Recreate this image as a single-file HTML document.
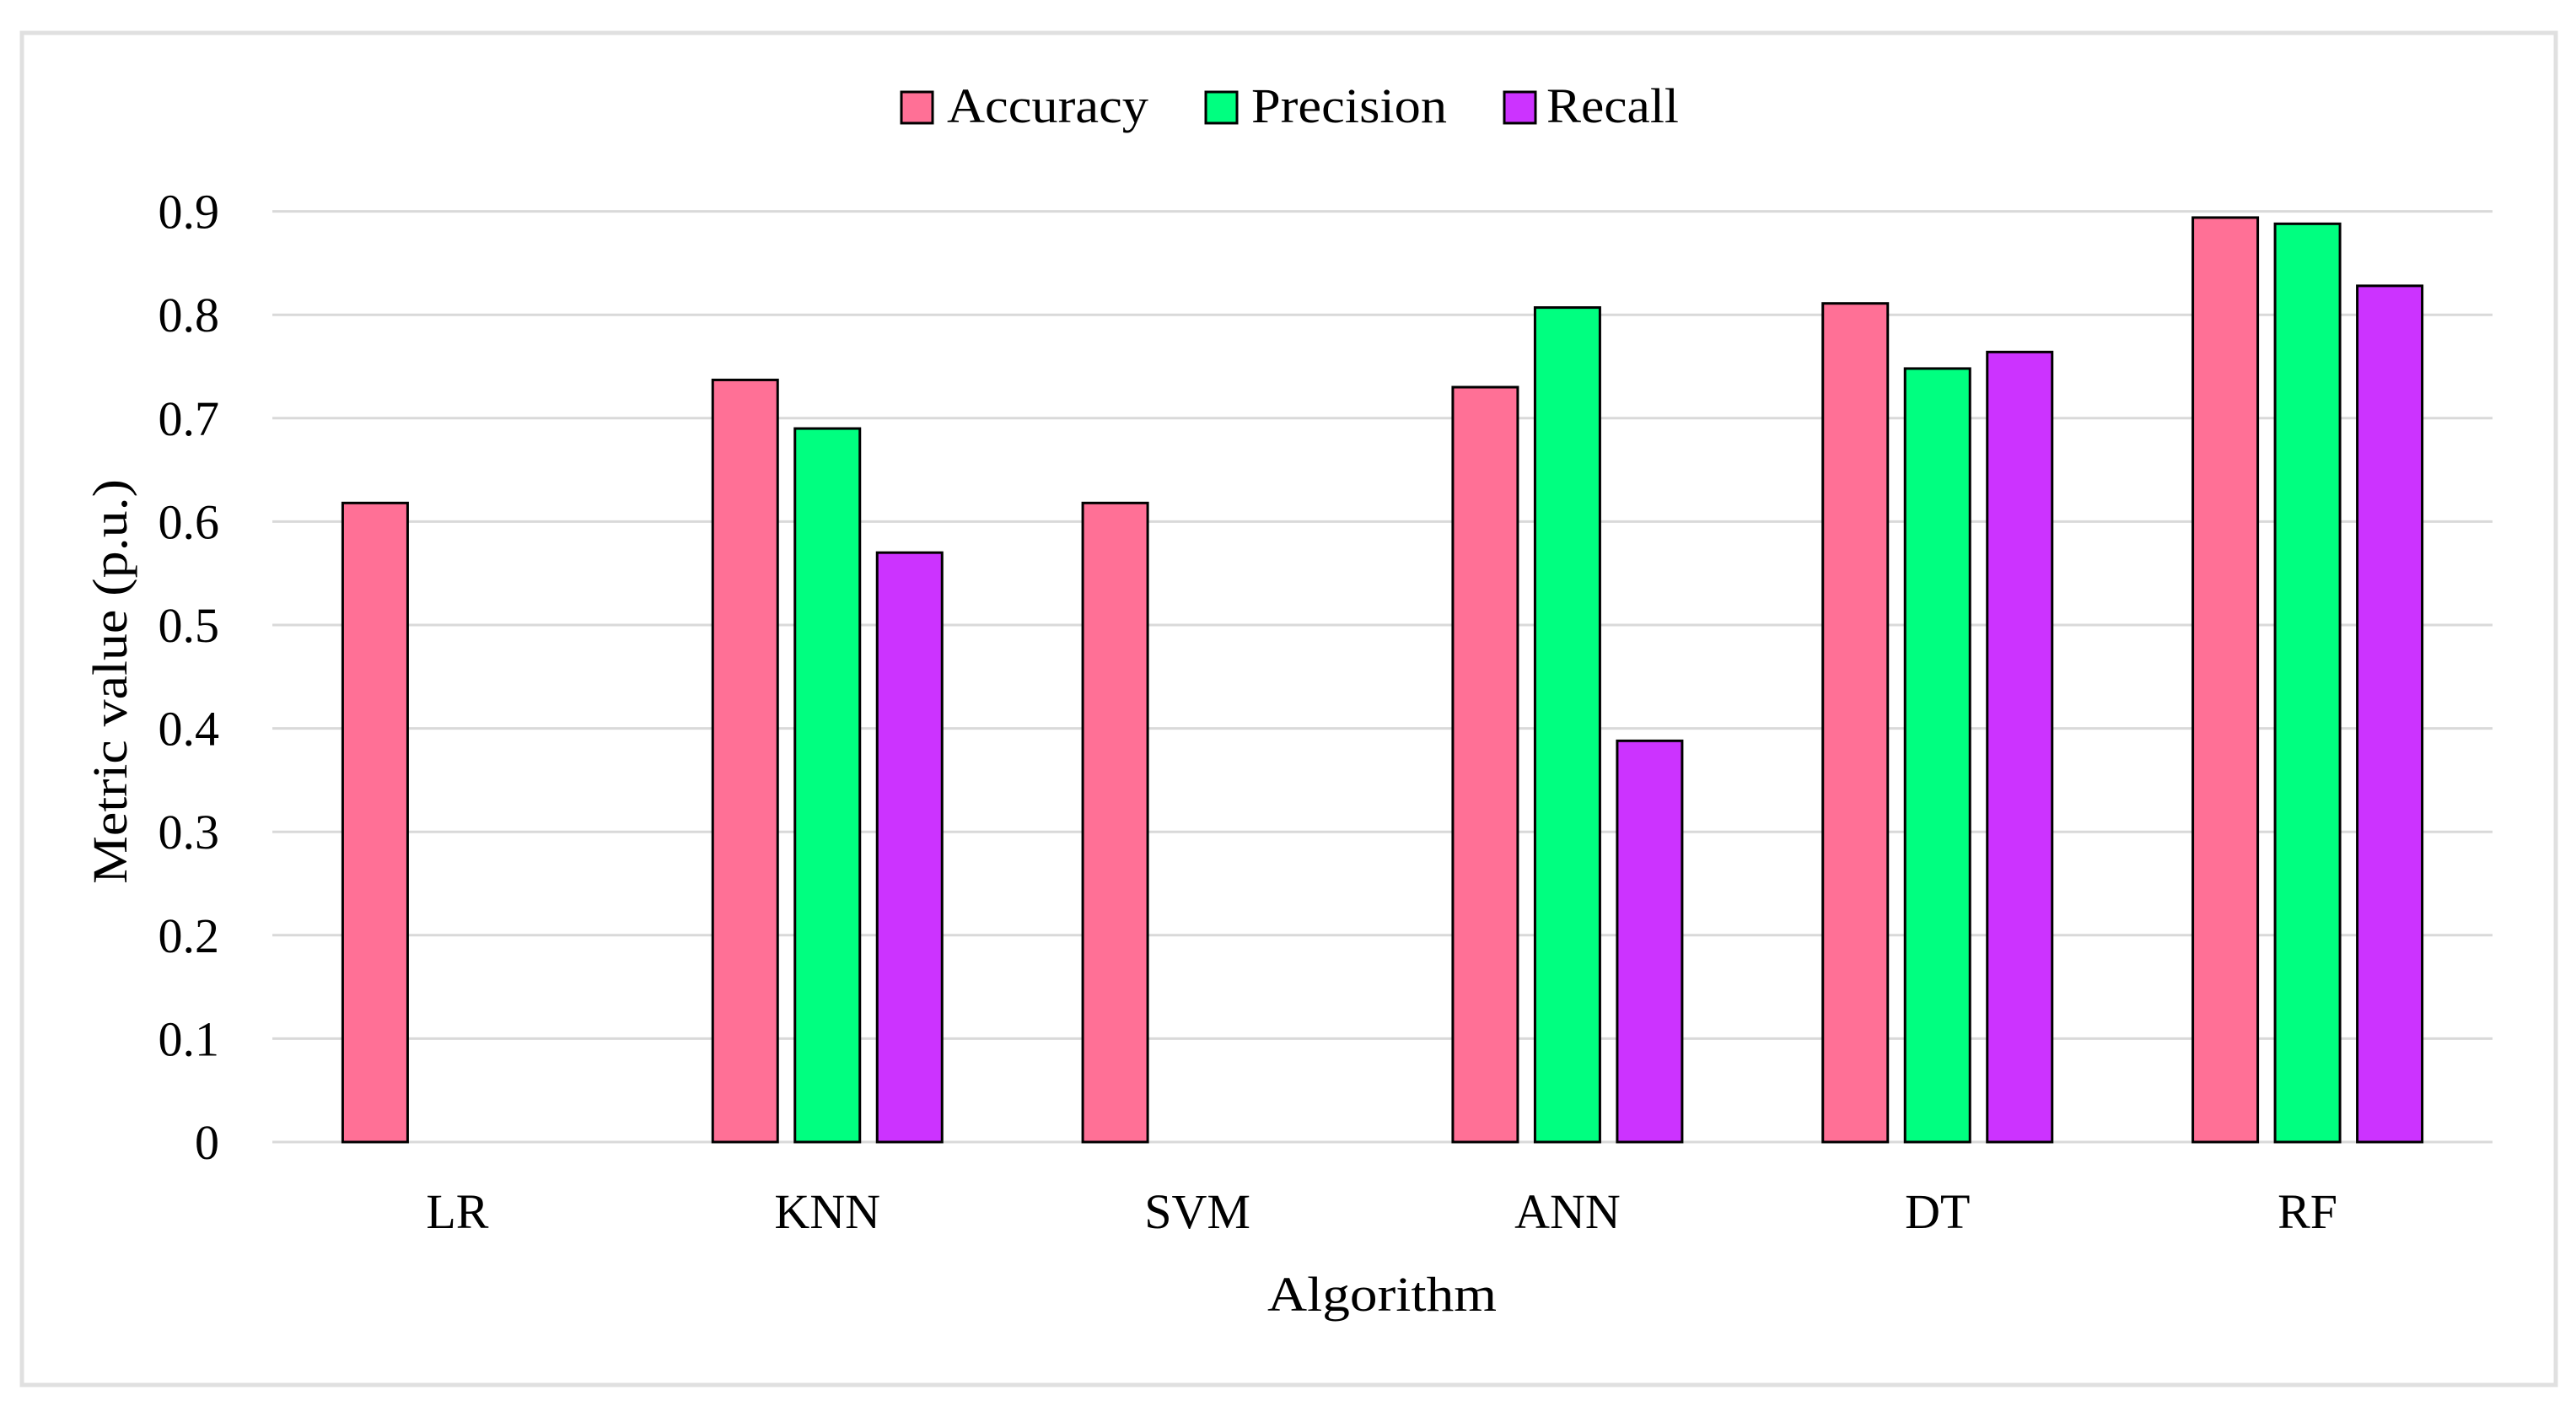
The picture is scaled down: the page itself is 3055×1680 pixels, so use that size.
<!DOCTYPE html>
<html><head><meta charset="utf-8"><style>
html,body{margin:0;padding:0;background:#fff;}
svg{display:block;font-family:"Liberation Serif",serif;}
</style></head><body>
<svg id="chart" width="3055" height="1680" viewBox="0 0 3055 1680" xmlns="http://www.w3.org/2000/svg">
<rect x="26" y="39" width="3005" height="1603" fill="#fff" stroke="#e0e0e0" stroke-width="5"/>
<g id="grid"></g>
<g id="bars"></g>
<g id="yticks"></g>
<g id="xticks"></g>
<text x="1639" y="1554" font-size="58" text-anchor="middle" textLength="272" lengthAdjust="spacingAndGlyphs">Algorithm</text>
<text transform="translate(150,808) rotate(-90)" font-size="58" text-anchor="middle" textLength="480" lengthAdjust="spacingAndGlyphs">Metric value (p.u.)</text>
<g>
<rect x="1069" y="109" width="37" height="37" fill="#FF7096" stroke="#000" stroke-width="3"/>
<text x="1123" y="145" font-size="58" textLength="239" lengthAdjust="spacingAndGlyphs">Accuracy</text>
<rect x="1430" y="109" width="37" height="37" fill="#00FF80" stroke="#000" stroke-width="3"/>
<text x="1484" y="145" font-size="58" textLength="232" lengthAdjust="spacingAndGlyphs">Precision</text>
<rect x="1784" y="109" width="37" height="37" fill="#CC33FF" stroke="#000" stroke-width="3"/>
<text x="1834" y="145" font-size="58" textLength="157" lengthAdjust="spacingAndGlyphs">Recall</text>
</g>
</svg>
<script>
const categories = ["LR","KNN","SVM","ANN","DT","RF"];
const accuracy = [0.618,0.737,0.618,0.730,0.811,0.894];
const precision = [0,0.690,0,0.807,0.748,0.888];
const recall = [0,0.570,0,0.388,0.764,0.828];
const yTicks = [0,0.1,0.2,0.3,0.4,0.5,0.6,0.7,0.8,0.9];
const yTickLabels = ["0","0.1","0.2","0.3","0.4","0.5","0.6","0.7","0.8","0.9"];

const NS="http://www.w3.org/2000/svg";
const plotL=323, plotR=2956, y0=1354, pxPerUnit=1226;
const y = v => y0 - v*pxPerUnit;
const band = (plotR-plotL)/categories.length;
const xc = i => plotL + band*(i+0.5);
function mk(tag, parent){const e=document.createElementNS(NS,tag);document.getElementById(parent).appendChild(e);return e;}

yTicks.forEach((t,i)=>{
  const l=mk('line','grid');
  
  
  l.setAttribute('x1',plotL);l.setAttribute('x2',plotR);
  l.setAttribute('y1',y(t));l.setAttribute('y2',y(t));
  l.setAttribute('stroke','#d9d9d9');l.setAttribute('stroke-width','3');
  const tx=mk('text','yticks');
  
  
  tx.setAttribute('x',260);tx.setAttribute('y',y(t)+20);
  tx.setAttribute('font-size','58');tx.setAttribute('text-anchor','end');
  tx.textContent=yTickLabels[i];
});

const series=[{v:accuracy,c:'#FF7096',n:'accuracy'},{v:precision,c:'#00FF80',n:'precision'},{v:recall,c:'#CC33FF',n:'recall'}];
const bw=77, pitch=97.5;
categories.forEach((cat,i)=>{
  series.forEach((s,j)=>{
    const val=s.v[i];
    if(!val) return;
    const r=mk('rect','bars');
    
    
    const cx=xc(i)+(j-1)*pitch;
    r.setAttribute('x',cx-bw/2);r.setAttribute('width',bw);
    r.setAttribute('y',y(val));r.setAttribute('height',y0-y(val));
    r.setAttribute('fill',s.c);r.setAttribute('stroke','#000');r.setAttribute('stroke-width','3');
  });
  const tx=mk('text','xticks');
  
  
  tx.setAttribute('x',xc(i));tx.setAttribute('y',1456);
  tx.setAttribute('font-size','58');tx.setAttribute('text-anchor','middle');
  tx.textContent=cat;
});
</script>
</body></html>
